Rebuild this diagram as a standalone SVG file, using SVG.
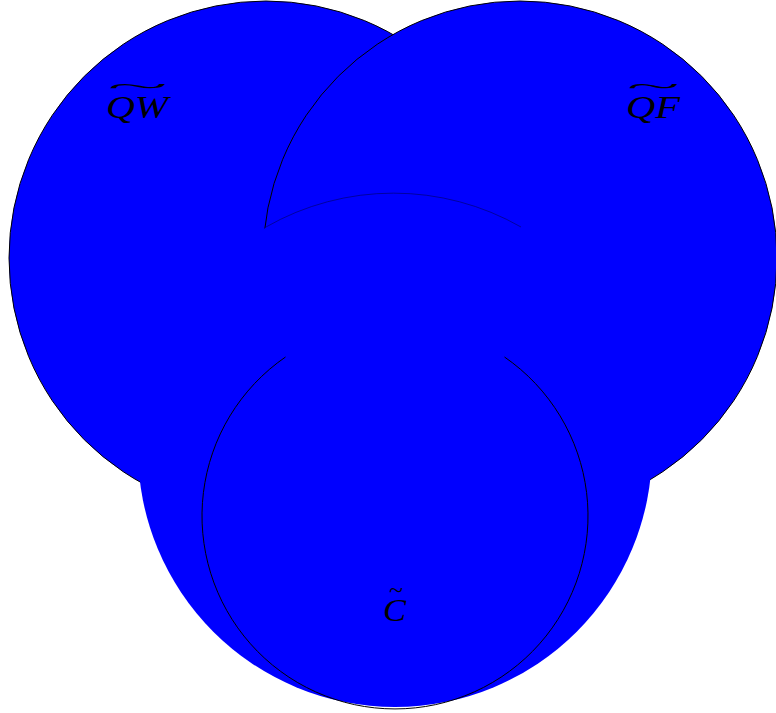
<svg xmlns="http://www.w3.org/2000/svg" width="776" height="713" viewBox="0 0 776 713">
<style>
.set{fill:#0000ff;stroke:#000;stroke-width:1}
.lbl{font-family:"Liberation Serif","DejaVu Serif",serif;font-style:italic;font-size:32px;fill:#000}
.tl{font-style:normal;font-size:22px}
</style>
<rect width="776" height="713" fill="#fff"/>
<g id="set-QW">
<circle class="set" cx="266" cy="258" r="257"/>
</g>
<g id="set-QF">
<circle class="set" cx="520" cy="258" r="257"/>
</g>
<g id="set-C">
<circle cx="395" cy="450" r="257" fill="#0000ff"/>
<path d="M266 227 A257 257 0 0 1 521 227" fill="none" stroke="#000060" stroke-width="0.6"/>
<path d="M285.5 357 A193 193 0 1 0 504.5 357" fill="none" stroke="#000" stroke-width="1"/>
</g>
<g id="labels">
<text class="lbl"><tspan class="tl" x="107" y="93" textLength="61" lengthAdjust="spacingAndGlyphs">~</tspan><tspan x="106" y="118" textLength="62" lengthAdjust="spacingAndGlyphs">QW</tspan></text>
<text class="lbl"><tspan class="tl" x="627" y="93" textLength="53" lengthAdjust="spacingAndGlyphs">~</tspan><tspan x="626" y="118" textLength="54" lengthAdjust="spacingAndGlyphs">QF</tspan></text>
<text class="lbl"><tspan class="tl" x="389" y="597" textLength="14" lengthAdjust="spacingAndGlyphs">~</tspan><tspan x="383" y="621" textLength="23" lengthAdjust="spacingAndGlyphs">C</tspan></text>
</g>
</svg>
